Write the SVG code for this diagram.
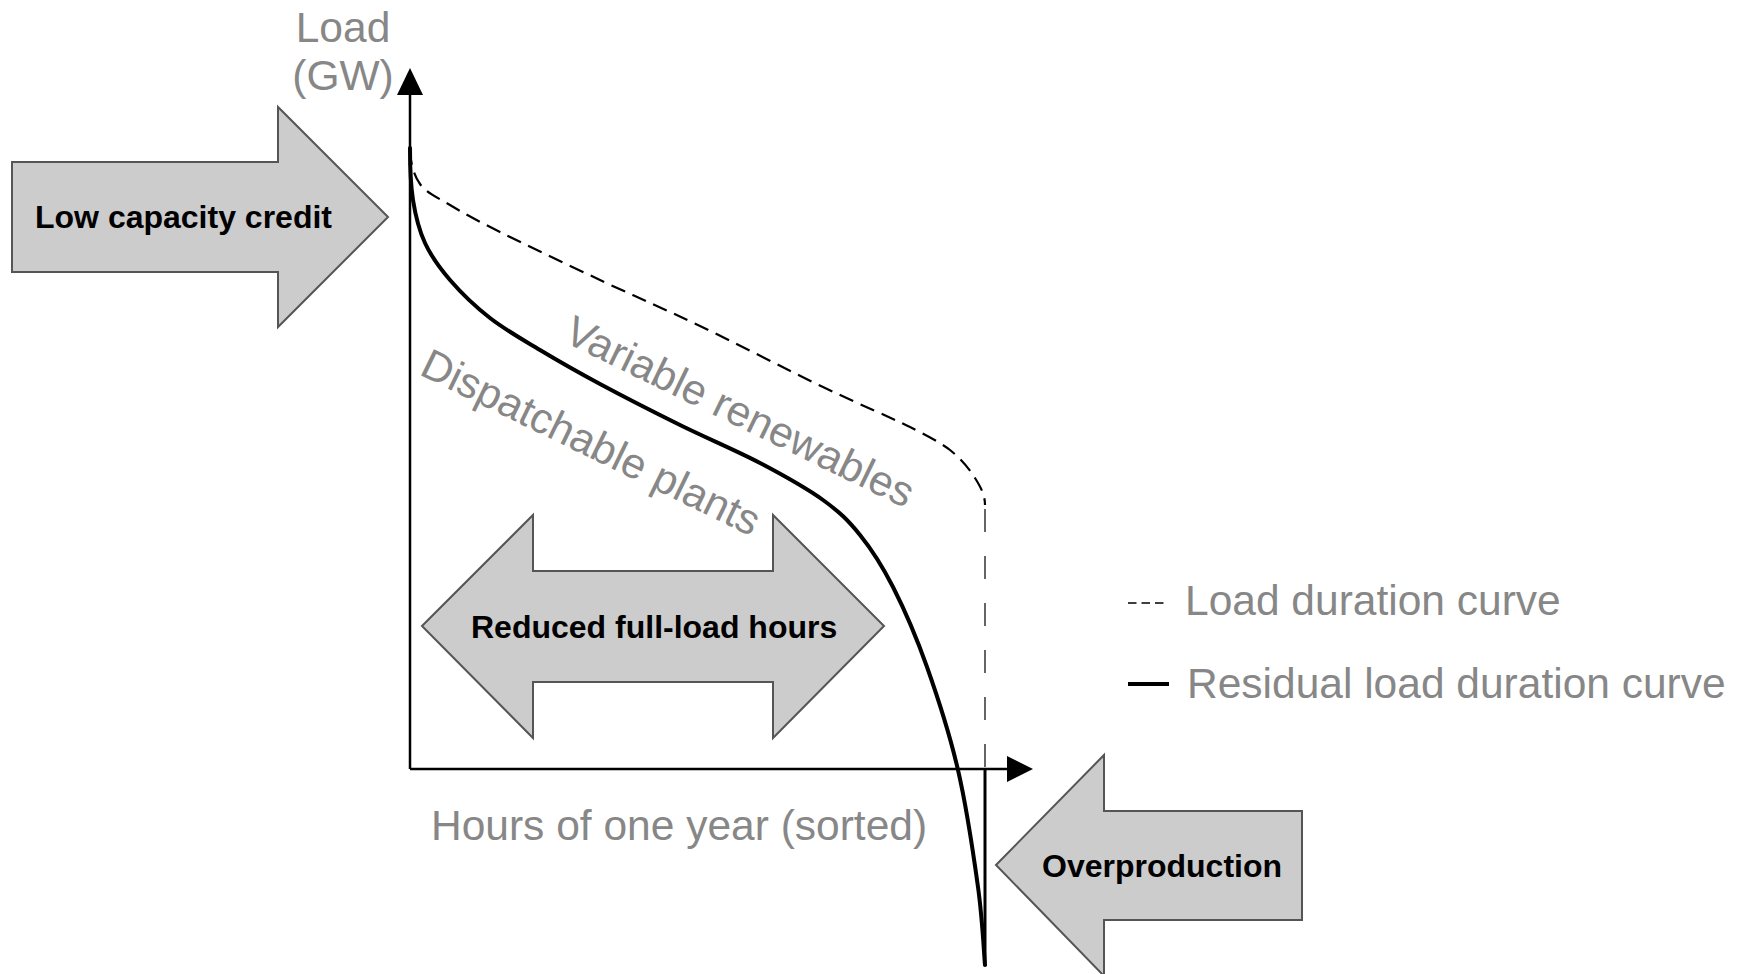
<svg xmlns="http://www.w3.org/2000/svg" width="1742" height="974" viewBox="0 0 1742 974">
<style>
  .big { fill: #cccccc; stroke: #555555; stroke-width: 2; stroke-linejoin: miter; }
  .bold { font-family: "Liberation Sans", Arial, sans-serif; font-weight: bold; font-size: 32px; fill: #000000; }
  .gray { font-family: "Liberation Sans", Arial, sans-serif; font-size: 42.5px; fill: #878787; }
  .axis { stroke: #000000; stroke-width: 2.5; fill: none; }
</style>
<rect width="1742" height="974" fill="#ffffff"/>

<g id="connectors">
  <!-- axes -->
  <line class="axis" x1="410" y1="769" x2="410" y2="92"/>
  <polygon points="410,68 397,95 423,95" fill="#000"/>
  <line class="axis" x1="410" y1="769" x2="1010" y2="769"/>
  <polygon points="1033,769 1007,756 1007,782" fill="#000"/>
  <!-- load duration curve (dashed) -->
  <path fill="none" stroke="#000" stroke-width="2.2" stroke-dasharray="15 8"
    d="M410,150 C410,160 413.3,174.8 420,184 C426.7,193.2 436.7,197 450,205 C463.3,213 475,219.5 500,232 C525,244.5 566.7,264.3 600,280 C633.3,295.7 662.8,308.2 700,326 C737.2,343.8 788,370.2 823,387 C858,403.8 888.8,416.5 910,427 C920.8,432.5 939.2,441.5 950,450 C960.8,458.5 969.2,468.8 975,478 C980.8,487.2 985,495 985,505"/>
  <line x1="985" y1="509" x2="985" y2="769" stroke="#333" stroke-width="1.5" stroke-dasharray="23 24"/>
  <!-- residual load duration curve -->
  <path fill="none" stroke="#000" stroke-width="4" stroke-linecap="round"
    d="M410,148 C410,158 410.5,184.2 413,200 C415.5,215.8 418.8,229.7 425,243 C431.2,256.3 439.2,267.5 450,280 C460.8,292.5 475,306.3 490,318 C505,329.7 521.7,339 540,350 C558.3,361 576.7,371.5 600,384 C623.3,396.5 653.3,411.8 680,425 C706.7,438.2 736.2,450.5 760,463 C783.8,475.5 806.3,488 823,500 C839.7,512 848.3,520.5 860,535 C871.7,549.5 881.8,565 893,587 C904.2,609 916.2,636.5 927,667 C937.8,697.5 949.5,733.3 958,770 C966.5,806.7 973.5,854.5 978,887 C982.5,919.5 983.8,952 985,965"/>
  <line x1="985" y1="769" x2="985" y2="966" stroke="#000" stroke-width="3"/>
</g>

<g id="axis-labels">
  <text class="gray" x="343" y="42" text-anchor="middle">Load</text>
  <text class="gray" x="343" y="90" text-anchor="middle">(GW)</text>
  <text class="gray" x="431" y="840">Hours of one year (sorted)</text>
</g>

<g id="curve-labels">
  <text class="gray" transform="translate(562,341) rotate(26)">Variable renewables</text>
  <text class="gray" transform="translate(418,374) rotate(26)">Dispatchable plants</text>
</g>

<g id="low-capacity-credit">
  <polygon class="big" points="12,162 278,162 278,107 388,217 278,327 278,272 12,272"/>
  <text class="bold" x="35" y="228">Low capacity credit</text>
</g>

<g id="reduced-full-load-hours">
  <polygon class="big" points="422,626 533,515 533,571 773,571 773,515 884,626 773,738 773,682 533,682 533,738"/>
  <text class="bold" x="471" y="638">Reduced full-load hours</text>
</g>

<g id="overproduction">
  <polygon class="big" points="996,865 1104,755 1104,811 1302,811 1302,920 1104,920 1104,976"/>
  <text class="bold" x="1042" y="877">Overproduction</text>
</g>

<g id="legend">
  <line x1="1128" y1="603" x2="1164" y2="603" stroke="#000" stroke-width="1.5" stroke-dasharray="8.5 5"/>
  <text class="gray" x="1185" y="615">Load duration curve</text>
  <line x1="1128" y1="684" x2="1169" y2="684" stroke="#000" stroke-width="4"/>
  <text class="gray" x="1187" y="698">Residual load duration curve</text>
</g>
</svg>
